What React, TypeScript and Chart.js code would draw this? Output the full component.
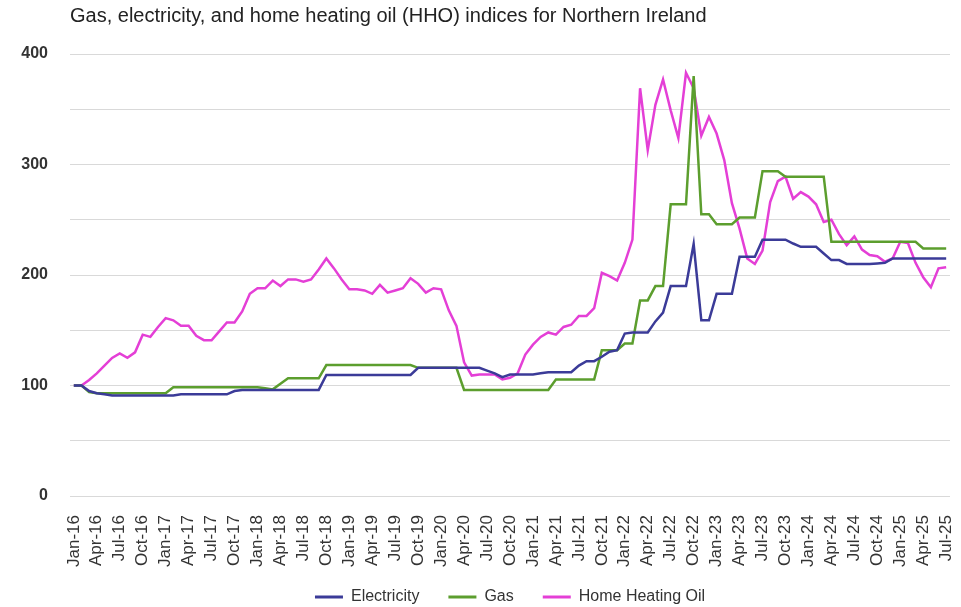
import React, { useEffect, useRef } from 'react';
import { Chart, registerables } from 'chart.js';

Chart.register(...registerables);

const FONT = "'Liberation Sans', Arial, sans-serif";
const TITLE = 'Gas, electricity, and home heating oil (HHO) indices for Northern Ireland';

const months: string[] = [
  'Jan-16', 'Feb-16', 'Mar-16', 'Apr-16', 'May-16', 'Jun-16', 'Jul-16', 'Aug-16', 'Sep-16', 'Oct-16', 'Nov-16', 'Dec-16',
  'Jan-17', 'Feb-17', 'Mar-17', 'Apr-17', 'May-17', 'Jun-17', 'Jul-17', 'Aug-17', 'Sep-17', 'Oct-17', 'Nov-17', 'Dec-17',
  'Jan-18', 'Feb-18', 'Mar-18', 'Apr-18', 'May-18', 'Jun-18', 'Jul-18', 'Aug-18', 'Sep-18', 'Oct-18', 'Nov-18', 'Dec-18',
  'Jan-19', 'Feb-19', 'Mar-19', 'Apr-19', 'May-19', 'Jun-19', 'Jul-19', 'Aug-19', 'Sep-19', 'Oct-19', 'Nov-19', 'Dec-19',
  'Jan-20', 'Feb-20', 'Mar-20', 'Apr-20', 'May-20', 'Jun-20', 'Jul-20', 'Aug-20', 'Sep-20', 'Oct-20', 'Nov-20', 'Dec-20',
  'Jan-21', 'Feb-21', 'Mar-21', 'Apr-21', 'May-21', 'Jun-21', 'Jul-21', 'Aug-21', 'Sep-21', 'Oct-21', 'Nov-21', 'Dec-21',
  'Jan-22', 'Feb-22', 'Mar-22', 'Apr-22', 'May-22', 'Jun-22', 'Jul-22', 'Aug-22', 'Sep-22', 'Oct-22', 'Nov-22', 'Dec-22',
  'Jan-23', 'Feb-23', 'Mar-23', 'Apr-23', 'May-23', 'Jun-23', 'Jul-23', 'Aug-23', 'Sep-23', 'Oct-23', 'Nov-23', 'Dec-23',
  'Jan-24', 'Feb-24', 'Mar-24', 'Apr-24', 'May-24', 'Jun-24', 'Jul-24', 'Aug-24', 'Sep-24', 'Oct-24', 'Nov-24', 'Dec-24',
  'Jan-25', 'Feb-25', 'Mar-25', 'Apr-25', 'May-25', 'Jun-25', 'Jul-25',
];

const electricity: number[] = [
  100, 100, 95, 93, 92, 91, 91, 91, 91, 91, 91, 91,
  91, 91, 92, 92, 92, 92, 92, 92, 92, 95, 96, 96,
  96, 96, 96, 96, 96, 96, 96, 96, 96, 109.5, 109.5, 109.5,
  109.5, 109.5, 109.5, 109.5, 109.5, 109.5, 109.5, 109.5, 109.5, 116, 116, 116,
  116, 116, 116, 116, 116, 116, 113.5, 111, 107.5, 110, 110, 110,
  110, 111, 112, 112, 112, 112, 118, 122, 122, 126, 130.5, 132,
  147, 148, 148, 148, 158, 166, 190, 190, 190, 228, 159, 159,
  183, 183, 183, 216.5, 216.5, 216.5, 232, 232, 232, 232, 228.5, 225.5,
  225.5, 225.5, 219.5, 213.5, 213.5, 210, 210, 210, 210, 210.5, 211, 215,
  215, 215, 215, 215, 215, 215, 215,
];

const gas: number[] = [
  100, 100, 94, 93, 93, 93, 93, 93, 93, 93, 93, 93,
  93, 98.5, 98.5, 98.5, 98.5, 98.5, 98.5, 98.5, 98.5, 98.5, 98.5, 98.5,
  98.5, 97.5, 96.5, 101.5, 106.5, 106.5, 106.5, 106.5, 106.5, 118.5, 118.5, 118.5,
  118.5, 118.5, 118.5, 118.5, 118.5, 118.5, 118.5, 118.5, 118.5, 116, 116, 116,
  116, 116, 116, 96, 96, 96, 96, 96, 96, 96, 96, 96,
  96, 96, 96, 105.5, 105.5, 105.5, 105.5, 105.5, 105.5, 132, 132, 132,
  138, 138, 177, 177, 190, 190, 264, 264, 264, 380, 255, 255,
  246, 246, 246, 252, 252, 252, 294, 294, 294, 289, 289, 289,
  289, 289, 289, 230, 230, 230, 230, 230, 230, 230, 230, 230,
  230, 230, 230, 224, 224, 224, 224,
];

const heatingOil: number[] = [
  100, 100, 105, 111, 118, 125, 129, 125, 130, 146, 144, 153,
  161, 159, 154, 154, 145, 141, 141, 149, 157, 157, 167, 183,
  188, 188, 195, 190, 196, 196, 194, 196, 205, 215, 206, 196,
  187, 187, 186, 183, 191, 184, 186, 188, 197, 192, 184, 188,
  187, 168, 154, 121, 109, 110, 110, 110, 105.5, 107, 111, 128,
  137, 144, 148, 146, 153, 155, 163, 163, 170, 202, 199, 195,
  211, 232, 369, 313, 354, 377, 349, 324, 383, 369, 326, 343,
  328, 304, 265, 242, 215, 210, 222, 266, 285, 289, 269, 275,
  271, 264, 248, 250, 237, 227, 235, 223, 218, 217, 212, 215,
  230, 229, 211, 198, 189, 206, 207,
];

const seriesNames = ['Electricity', 'Gas', 'Home Heating Oil'];
const seriesColors = ['#3B3B98', '#5C9E2E', '#E43FD6'];

const legendShift = {
  id: 'legendShift',
  afterLayout(chart: any) {
    const l = chart.legend;
    if (l) {
      l.top -= 8;
      l.bottom -= 8;
    }
  },
};

export default function App() {
  const canvasRef = useRef<HTMLCanvasElement>(null);

  useEffect(() => {
    const canvas = canvasRef.current;
    if (!canvas) return;
    const values = [electricity, gas, heatingOil];
    const chart = new Chart(canvas, {
      type: 'line',
      data: {
        labels: months,
        datasets: values.map((d, i) => ({
          label: seriesNames[i],
          data: d,
          borderColor: seriesColors[i],
          backgroundColor: seriesColors[i],
          borderWidth: 2.5,
          pointRadius: 0,
          pointHoverRadius: 0,
          tension: 0,
          fill: false,
        })),
      },
      plugins: [legendShift],
      options: {
        animation: false,
        responsive: false,
        maintainAspectRatio: false,
        layout: { padding: { left: 0, right: 11, top: 0, bottom: 0 } },
        plugins: {
          title: {
            display: true,
            text: TITLE,
            align: 'start',
            fullSize: false,
            color: '#222222',
            font: { family: FONT, size: 20, weight: 'normal' },
            padding: { top: 4, bottom: 26 },
          },
          legend: {
            position: 'bottom',
            fullSize: false,
            labels: {
              boxWidth: 28,
              boxHeight: 3,
              padding: 29,
              color: '#333333',
              font: { family: FONT, size: 16 },
              generateLabels: (c: any) =>
                c.data.datasets.map((ds: any, i: number) => ({
                  text: ds.label,
                  fillStyle: ds.borderColor,
                  strokeStyle: ds.borderColor,
                  lineWidth: 0,
                  hidden: false,
                  datasetIndex: i,
                  fontColor: '#333333',
                })),
            },
          },
          tooltip: { enabled: false },
        },
        scales: {
          x: {
            offset: true,
            grid: { display: false, drawTicks: false },
            border: { display: false },
            ticks: {
              autoSkip: false,
              maxRotation: 90,
              minRotation: 90,
              padding: 19,
              color: '#333333',
              font: { family: FONT, size: 17 },
              callback: (_v: any, i: number) => (i % 3 === 0 ? months[i] : ''),
            },
            afterFit: (s: any) => {
              s.height = 72;
              s.paddingLeft = 0;
              s.paddingRight = 0;
            },
          },
          y: {
            min: 0,
            max: 400,
            grid: { color: '#d9d9d9', lineWidth: 1, drawTicks: false },
            border: { display: false },
            ticks: {
              stepSize: 50,
              padding: 22,
              color: '#333333',
              font: { family: FONT, size: 16, weight: 'bold' },
              callback: (v: any) => (Number(v) % 100 === 0 ? String(v) : ''),
            },
            afterFit: (s: any) => {
              s.width = 70;
            },
          },
        },
      },
    } as any);
    return () => chart.destroy();
  }, []);

  return (
    <div style={{ position: 'fixed', left: 0, top: 0, width: 961, height: 623, background: '#ffffff' }}>
      <canvas ref={canvasRef} width={961} height={623} style={{ width: 961, height: 623, display: 'block' }} />
    </div>
  );
}
